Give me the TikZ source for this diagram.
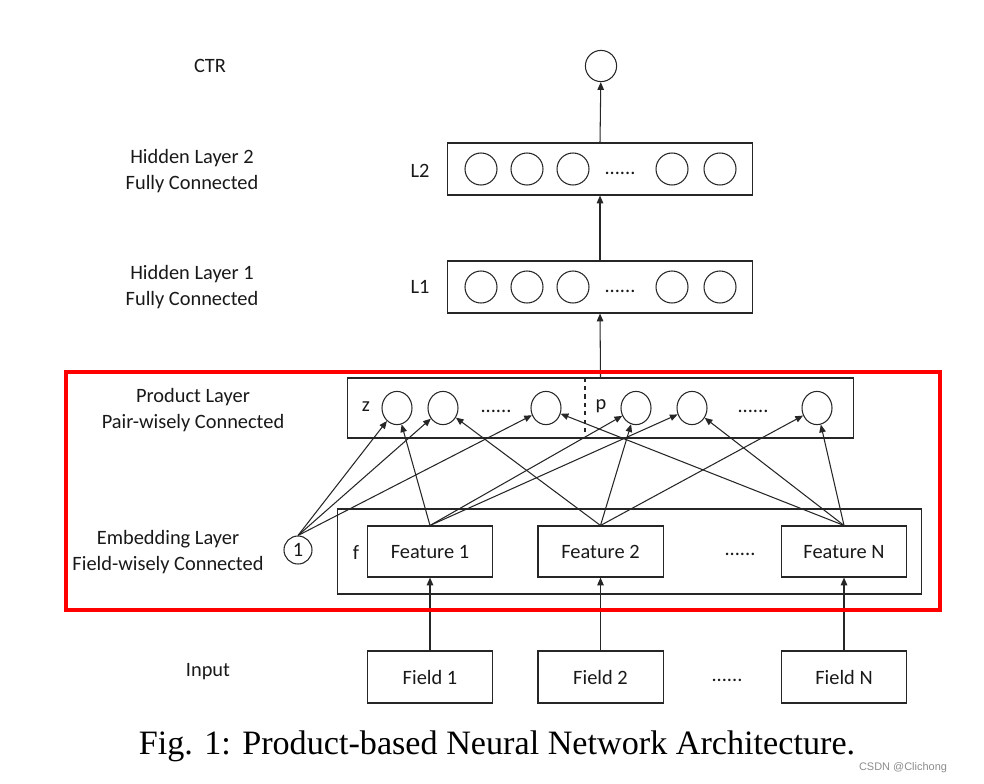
\documentclass[tikz,border=0pt]{standalone}
\usepackage{fontspec}
\setmainfont{Carlito}
\newfontfamily\capfont{Liberation Serif}
\newfontfamily\markfont{Liberation Sans}
\usetikzlibrary{positioning,arrows.meta,shapes.geometric}

\begin{document}
\begin{tikzpicture}[x=0.025cm,y=-0.025cm,>={Triangle[length=5.5pt,width=4.6pt]},
  line width=0.75pt,draw=black!85,
  every node/.style={font=\fontsize{14.5}{19}\selectfont,text=black!90},
  unit/.style={draw,circle,inner sep=0pt,minimum size=0.8cm},
  pnode/.style={draw,ellipse,inner sep=0pt,minimum width=0.75cm,minimum height=0.83cm},
  layerbox/.style={draw,minimum width=7.6cm,minimum height=1.3cm},
  featbox/.style={draw,minimum width=3.125cm,minimum height=1.3cm,
    text height=2.2ex,text depth=0ex},
  dotsmark/.style={anchor=base,inner sep=0pt},
  sidelabel/.style={align=center}]
  \useasboundingbox (0,0) rectangle (984,783);

  % output and hidden layers
  \node[unit,minimum size=0.78cm] (ctr) at (601,66) {};
  \node (ctrlbl) at (210,66) {CTR};
  \node[layerbox] (L2) at (600,169) {};
  \node[layerbox] (L1) at (600,287) {};
  \foreach \x [count=\i] in {481,527,573,672,720} {
    \node[unit] (hb-\i) at (\x,169) {};
    \node[unit] (ha-\i) at (\x,287) {};
  }
  \node[dotsmark] (L2dots) at (620,174) {......};
  \node[dotsmark] (L1dots) at (620,292) {......};
  \node (L2lbl) at (420,171) {L2};
  \node (L1lbl) at (420,287) {L1};
  \node[sidelabel] (h2lbl) at (192,171) {Hidden Layer 2\\Fully Connected};
  \node[sidelabel] (h1lbl) at (192,287) {Hidden Layer 1\\Fully Connected};

  % product layer
  \node[draw,minimum width=12.625cm,minimum height=1.5cm] (prod) at (600.5,408) {};
  \coordinate (sep) at (585,408);
  \draw[dashed] (prod.north -| sep) -- (prod.south -| sep);
  \node (zlbl) at (366,407) {z};
  \node (plbl) at (601,406) {p};
  \node[pnode] (z1) at (397,408) {};
  \node[pnode] (z2) at (443,408) {};
  \node[pnode] (z3) at (546,408) {};
  \node[pnode] (p1) at (636,408) {};
  \node[pnode] (p2) at (692,408) {};
  \node[pnode] (p3) at (817,408) {};
  \node[dotsmark] (zdots) at (496,412) {......};
  \node[dotsmark] (pdots) at (753,412) {......};
  \node[sidelabel] (prodlbl) at (193,410) {Product Layer\\Pair-wisely Connected};

  % embedding layer
  \node[draw,minimum width=14.575cm,minimum height=2.125cm] (embed) at (629.5,551.5) {};
  \node[featbox,minimum height=1.275cm] (feat1) at (430,551.5) {Feature 1};
  \node[featbox,minimum height=1.275cm] (feat2) at (600.5,551.5) {Feature 2};
  \node[featbox,minimum height=1.275cm] (featN) at (844,551.5) {Feature N};
  \node[dotsmark] (fdots) at (740,555) {......};
  \node (flbl) at (356,552) {f};
  \node[draw,circle,inner sep=0pt,minimum size=0.7cm] (one) at (298,550) {1};
  \node[sidelabel] (embedlbl) at (168,552) {Embedding Layer\\Field-wisely Connected};

  % input
  \node[featbox] (field1) at (430,677) {Field 1};
  \node[featbox] (field2) at (600.5,677) {Field 2};
  \node[featbox] (fieldN) at (844,677) {Field N};
  \node[dotsmark] (idots) at (727,681) {......};
  \node (inlbl) at (208,672) {Input};

  \path[->]
    (L2.north) edge (ctr)
    (L1.north) edge (L2.south)
    (prod.north) edge (L1.south)
    (one.north) edge (z1) edge (z2) edge (z3)
    (feat1.north) edge (z1) edge (p1) edge (p2)
    (feat2.north) edge (z2) edge (p1) edge (p3)
    (featN.north) edge (z3) edge (p2) edge (p3)
    (field1.north) edge (feat1.south)
    (field2.north) edge (feat2.south)
    (fieldN.north) edge (featN.south);

  % highlight frame
  \draw[red,line width=2.8pt] (66,372) rectangle (940,610);

  \node[font=\capfont\fontsize{24.3}{27}\selectfont,text=black] (caption) at (497,746)
    {Fig. 1: Product-based Neural Network Architecture.};
  \node[font=\markfont\fontsize{7.8}{9}\selectfont,text=black!45] (mark) at (903,768)
    {CSDN @Clichong};
\end{tikzpicture}
\end{document}
